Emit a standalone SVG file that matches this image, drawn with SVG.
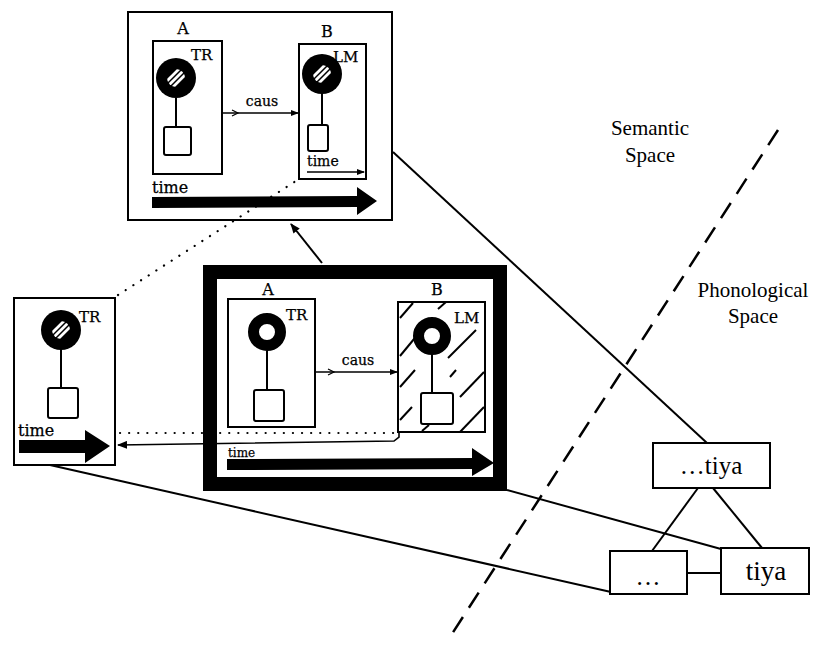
<svg xmlns="http://www.w3.org/2000/svg" xmlns:xlink="http://www.w3.org/1999/xlink" width="815" height="645" viewBox="0 0 815 645">
<style>
.box{fill:#fff;stroke:#000;stroke-width:2}
.frame{fill:none;stroke:#000;stroke-width:2}
.thin{fill:none;stroke:#000;stroke-width:1.6}
.ln{fill:none;stroke:#000;stroke-width:2}
.dot{fill:none;stroke:#000;stroke-width:2.2;stroke-dasharray:0.1 9;stroke-linecap:round}
.lab{font-family:"DejaVu Serif","Liberation Serif",serif;fill:#000;stroke:#000;stroke-width:0.25}
.big{font-family:"Liberation Serif","Times New Roman",serif;fill:#000}
.ring{fill:#fff;stroke:#000;stroke-width:11}
.blk{fill:#000}
</style>
<defs>
<marker id="arr" markerWidth="10" markerHeight="8" refX="9" refY="4" orient="auto" markerUnits="userSpaceOnUse">
<path d="M0,0 L10,4 L0,8 z" fill="#000"/>
</marker>
<marker id="arrs" markerWidth="8" markerHeight="6" refX="7" refY="3" orient="auto" markerUnits="userSpaceOnUse">
<path d="M0,0 L8,3 L0,6 z" fill="#000"/>
</marker>
<clipPath id="cc"><circle cx="0" cy="0" r="9"/></clipPath>
<g id="hdot">
<circle cx="0" cy="0" r="20" fill="#000"/>
<g clip-path="url(#cc)"><path d="M-12,6 L6,-12 M-9,9 L9,-9 M-6,12 L12,-6" stroke="#fff" stroke-width="2.8"/></g>
</g>
</defs>

<g id="top-box">
<rect class="frame" x="128" y="12" width="264" height="208"/>
<text class="lab" x="183" y="34" font-size="16" text-anchor="middle">A</text>
<rect class="box" x="153" y="41" width="69" height="133"/>
<use xlink:href="#hdot" x="176" y="78"/>
<text class="lab" x="191" y="60" font-size="15">TR</text>
<line class="ln" x1="176" y1="98" x2="176" y2="127"/>
<rect class="box" x="164" y="127" width="27" height="28" rx="2"/>
<text class="lab" x="327" y="37" font-size="16" text-anchor="middle">B</text>
<rect class="box" x="299" y="44" width="67" height="135"/>
<use xlink:href="#hdot" x="322" y="74"/>
<text class="lab" x="333" y="62" font-size="15">LM</text>
<line class="ln" x1="322" y1="93" x2="322" y2="125"/>
<rect class="box" x="308" y="125" width="20" height="26" rx="2"/>
<text class="lab" x="307" y="166" font-size="14">time</text>
<line class="thin" x1="307" y1="172" x2="364" y2="172" marker-end="url(#arrs)"/>
<line class="thin" x1="222" y1="113" x2="298" y2="113" marker-end="url(#arrs)"/>
<path d="M232,110 L238,113 L232,116" fill="none" stroke="#000" stroke-width="1.2"/>
<text class="lab" x="262" y="106" font-size="14" text-anchor="middle">caus</text>
<text class="lab" x="152" y="193" font-size="16">time</text>
<polygon class="blk" points="152,197 357,196 357,187 377,201 357,215 357,207 152,208"/>
</g>

<g id="middle-box">
<rect x="210" y="272" width="290" height="212" fill="none" stroke="#000" stroke-width="14"/>
<text class="lab" x="268" y="295" font-size="16" text-anchor="middle">A</text>
<rect class="box" x="228" y="299" width="87" height="128"/>
<circle class="ring" cx="267" cy="332" r="13.5"/>
<text class="lab" x="286" y="320" font-size="15">TR</text>
<line class="ln" x1="267" y1="351" x2="267" y2="390"/>
<rect class="box" x="254" y="390" width="30" height="31" rx="2"/>
<line class="thin" x1="315" y1="372" x2="397" y2="372" marker-end="url(#arrs)"/>
<path d="M328,369 L334,372 L328,375" fill="none" stroke="#000" stroke-width="1.2"/>
<text class="lab" x="358" y="365" font-size="14" text-anchor="middle">caus</text>
<text class="lab" x="437" y="295" font-size="16" text-anchor="middle">B</text>
<rect class="box" x="398" y="302" width="87" height="130"/>
<g stroke="#000" stroke-width="2">
<line x1="400" y1="318" x2="413" y2="303"/>
<line x1="438" y1="309" x2="446" y2="302"/>
<line x1="400" y1="356" x2="419" y2="333"/>
<line x1="448" y1="358" x2="476" y2="330"/>
<line x1="400" y1="387" x2="415" y2="370"/>
<line x1="450" y1="377" x2="456" y2="370"/>
<line x1="460" y1="397" x2="484" y2="372"/>
<line x1="400" y1="420" x2="412" y2="407"/>
<line x1="422" y1="431" x2="429" y2="425"/>
<line x1="460" y1="432" x2="484" y2="407"/>
</g>
<circle class="ring" cx="432" cy="336" r="13.5"/>
<text class="lab" x="454" y="323" font-size="15">LM</text>
<line class="ln" x1="432" y1="355" x2="432" y2="393"/>
<rect class="box" x="421" y="393" width="32" height="31" rx="2"/>
<text class="lab" x="228" y="457" font-size="12">time</text>
<polygon class="blk" points="227,459 472,458 472,448 494,463 472,476 472,469 227,470"/>
</g>

<g id="left-box">
<rect class="box" x="14" y="298" width="101" height="167"/>
<use xlink:href="#hdot" x="61" y="330"/>
<text class="lab" x="79" y="322" font-size="15">TR</text>
<line class="ln" x1="61" y1="349" x2="61" y2="388"/>
<rect class="box" x="48" y="388" width="30" height="30" rx="2"/>
<text class="lab" x="18" y="436" font-size="16">time</text>
<polygon class="blk" points="19,440 85,440 85,430 110,446 85,463 85,453 19,453"/>
</g>

<g id="connectors">
<line class="ln" x1="393" y1="152" x2="707" y2="443"/>
<line class="ln" x1="507" y1="490" x2="721" y2="549"/>
<line class="ln" x1="50" y1="465" x2="611" y2="592"/>
<line class="ln" x1="322" y1="263" x2="291" y2="224" marker-end="url(#arr)"/>
<line class="dot" x1="118" y1="295" x2="299" y2="179"/>
<line class="dot" x1="120" y1="433" x2="396" y2="433"/>
<path class="thin" d="M399,432 L399,437 L394,441 L118,445" marker-end="url(#arr)"/>
<line class="ln" x1="687" y1="573" x2="721" y2="573"/>
<line class="ln" x1="698" y1="488" x2="652" y2="551"/>
<line class="ln" x1="713" y1="488" x2="762" y2="548"/>
<line x1="778" y1="130" x2="448" y2="640" stroke="#000" stroke-width="2.5" stroke-dasharray="18 11"/>
</g>

<g id="labels">
<text class="big" x="650" y="135" font-size="21" text-anchor="middle">Semantic</text>
<text class="big" x="650" y="162" font-size="21" text-anchor="middle">Space</text>
<text class="big" x="753" y="297" font-size="21" text-anchor="middle">Phonological</text>
<text class="big" x="753" y="323" font-size="21" text-anchor="middle">Space</text>
</g>

<g id="node-tiya-full">
<rect class="box" x="653" y="443" width="117" height="45"/>
<text class="big" x="711" y="474" font-size="25" text-anchor="middle">…tiya</text>
</g>
<g id="node-dots">
<rect class="box" x="610" y="551" width="77" height="43"/>
<text class="big" x="648" y="585" font-size="25" text-anchor="middle">…</text>
</g>
<g id="node-tiya">
<rect class="box" x="721" y="548" width="88" height="46"/>
<text class="big" x="766" y="580" font-size="27" text-anchor="middle">tiya</text>
</g>
</svg>
